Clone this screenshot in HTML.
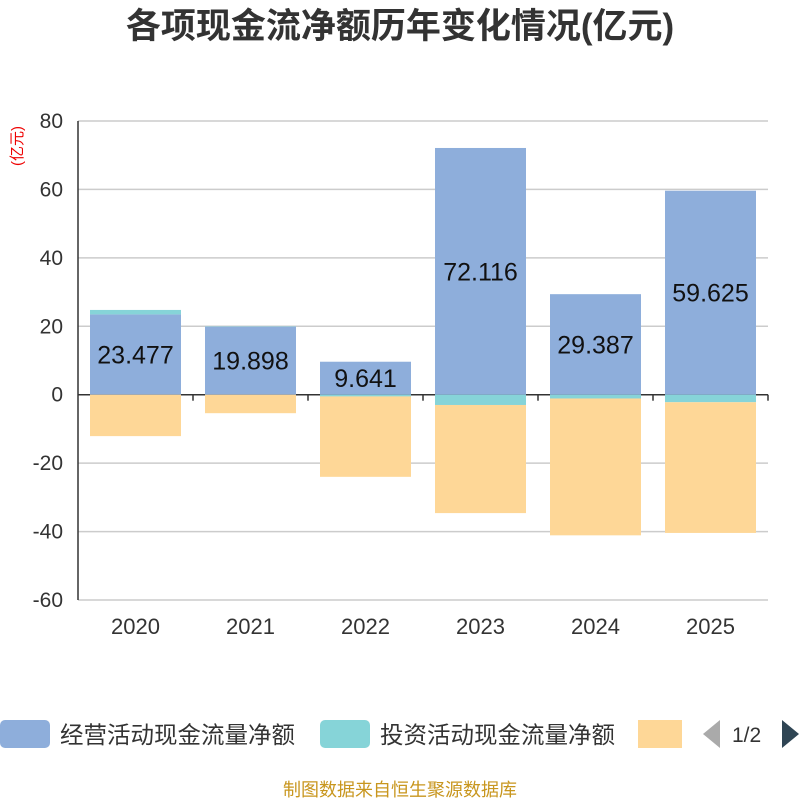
<!DOCTYPE html>
<html><head><meta charset="utf-8">
<style>
body{margin:0;background:#fff;font-family:"Liberation Sans","Noto Sans CJK SC",sans-serif;}
#wrap{position:relative;width:800px;height:800px;overflow:hidden;}
</style></head>
<body>
<div id="wrap">
<svg id="chart" width="800" height="800" xmlns="http://www.w3.org/2000/svg">
<text x="400" y="38" text-anchor="middle" font-size="35" font-weight="bold" fill="#333">各项现金流净额历年变化情况(亿元)</text>
<text transform="translate(22,146) rotate(-90)" text-anchor="middle" font-size="15" fill="#e00">(亿元)</text>
<g id="grid"></g><g id="bars"></g><g id="axes"></g>
<g>
<rect x="0" y="720" width="50" height="28" rx="5" fill="#8eaedb"/>
<text x="60" y="743" font-size="23.5" fill="#333">经营活动现金流量净额</text>
<rect x="320" y="720" width="50" height="28" rx="5" fill="#86d4d8"/>
<text x="380" y="743" font-size="23.5" fill="#333">投资活动现金流量净额</text>
<rect x="638" y="720" width="44" height="28" fill="#fed797"/>
<path d="M720 720 L703 734 L720 748 Z" fill="#aaa"/>
<text x="732" y="742" font-size="21" fill="#333">1/2</text>
<path d="M782 720 L799 734 L782 748 Z" fill="#2f4554"/>
</g>
<text x="400" y="796" text-anchor="middle" font-size="18" fill="#c8961e">制图数据来自恒生聚源数据库</text>
</svg>
</div>
<script>
const categories=["2020","2021","2022","2023","2024","2025"];
const operating=[23.477,19.898,9.641,72.116,29.387,59.625];
const investing=[1.3,0.1,-0.5,-3.0,-1.1,-2.2];
const financing=[-12.1,-5.4,-23.5,-31.6,-40.0,-38.2];
const yTicks=[80,60,40,20,0,-20,-40,-60];
const NS="http://www.w3.org/2000/svg";
const x0=78,x1=768,yTop=121,yBot=600,vMax=80,vMin=-60;
const y=v=>yTop+(vMax-v)/(vMax-vMin)*(yBot-yTop);
const band=(x1-x0)/categories.length;
function mk(tag,attrs,parent){const e=document.createElementNS(NS,tag);for(const k in attrs)e.setAttribute(k,attrs[k]);parent.appendChild(e);return e;}
const grid=document.getElementById('grid'),bars=document.getElementById('bars'),axes=document.getElementById('axes');
yTicks.forEach(t=>{
 const l=mk('line',{x1:x0,x2:x1,y1:y(t),y2:y(t),stroke:t===0?'#333':'#ccc','stroke-width':1.5},grid);
 
 
 const tx=mk('text',{x:63,y:y(t)+7,'text-anchor':'end','font-size':21,fill:'#333'},axes);
 tx.textContent=t;
 
 
});
const ax=mk('line',{x1:x0,x2:x0,y1:yTop,y2:yBot,stroke:'#333','stroke-width':1.5},axes);


categories.forEach((c,i)=>{
 const bx=x0+band*i+12,bw=band-24;
 let pos=0,neg=0;
 const series=[[operating[i],'#8eaedb','operating'],[investing[i],'#86d4d8','investing'],[financing[i],'#fed797','financing']];
 series.forEach(([v,col,nm])=>{
  let a,b;
  if(v>=0){a=pos;b=pos+v;pos=b;}else{a=neg;b=neg+v;neg=b;}
  const r=mk('rect',{x:bx,y:Math.min(y(a),y(b)),width:bw,height:Math.abs(y(a)-y(b)),fill:col},bars);
  
  
 });
 const lt=mk('text',{x:bx+bw/2,y:y(operating[i]/2)+9,'text-anchor':'middle','font-size':25,fill:'#111'},bars);
 lt.textContent=operating[i];
 
 
 const tk=mk('line',{x1:x0+band*(i+1),x2:x0+band*(i+1),y1:y(0),y2:y(0)+6,stroke:'#333','stroke-width':1.5},axes);
 
 
 const xl=mk('text',{x:x0+band*(i+0.5),y:634,'text-anchor':'middle','font-size':22,fill:'#333'},axes);
 xl.textContent=c;
 
 
});
</script>
</body></html>
